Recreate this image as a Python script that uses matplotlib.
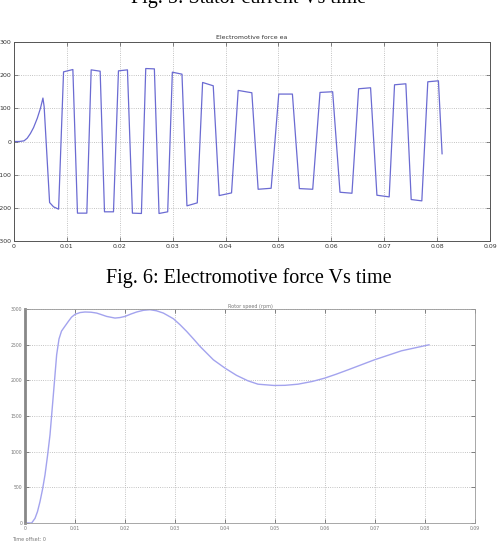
import numpy as np
import matplotlib
matplotlib.use('Agg')
import matplotlib.pyplot as plt

# emf trace (s, V)
emf_t = [0, 0.0010, 0.0019, 0.0025, 0.0031, 0.0037, 0.0044, 0.0050, 0.00547, 0.0057,
         0.00673, 0.00748, 0.00843, 0.00937, 0.01113, 0.0120, 0.01377, 0.01459, 0.01629,
         0.01711, 0.01881, 0.01975, 0.02145, 0.02239, 0.02409, 0.02491, 0.02654,
         0.02742, 0.02906, 0.02994, 0.03176, 0.0327, 0.03465, 0.03566, 0.03767,
         0.0388, 0.04113, 0.04239, 0.04421, 0.04497, 0.04616, 0.04862, 0.05006, 0.05264,
         0.05396, 0.05648, 0.05786, 0.06025, 0.06164, 0.0639, 0.06516, 0.06742,
         0.06862, 0.07094, 0.07195, 0.07409, 0.0751, 0.07711, 0.07824, 0.08025, 0.08094]
emf_v = [0, 0, 2, 10, 24, 42, 70, 100, 131, 105,
         -184, -197, -204, 210, 217, -216, -216, 216, 212,
         -212, -212, 213, 216, -216, -217, 220, 219,
         -217, -212, 209, 203, -194, -185, 178, 168,
         -163, -155, 154, 149, 147, -144, -141, 143, 143,
         -142, -144, 148, 150, -153, -156, 159, 162,
         -162, -167, 171, 174, -175, -179, 180, 183, -37]

# rotor speed (s, rpm)
spd_t = [0, 0.00133, 0.002, 0.0025, 0.003, 0.0035, 0.004, 0.0045, 0.005, 0.00567,
         0.00633, 0.0068, 0.0073, 0.0078, 0.00867, 0.0093, 0.010, 0.011, 0.012,
         0.0132, 0.01433, 0.01533, 0.01633, 0.018, 0.019, 0.020, 0.0212, 0.02233,
         0.0237, 0.025, 0.0263, 0.02767, 0.02967, 0.031, 0.03233, 0.0337, 0.035,
         0.03767, 0.040, 0.0423, 0.0446, 0.0466, 0.0498, 0.052, 0.0546, 0.0575,
         0.0599, 0.0622, 0.0646, 0.0699, 0.0753, 0.0808]
spd_v = [0, 0, 65, 160, 300, 470, 674, 940, 1235, 1797,
         2358, 2580, 2690, 2740, 2826, 2885, 2925, 2950, 2958,
         2955, 2943, 2920, 2896, 2873, 2880, 2896, 2930, 2958,
         2982, 2990, 2975, 2943, 2864, 2780, 2686, 2580, 2476,
         2288, 2171, 2070, 1993, 1946, 1928, 1930, 1946, 1985,
         2030, 2085, 2147, 2288, 2414, 2498]

emf_yticks = [-300, -200, -100, 0, 100, 200, 300]
spd_yticks = [0, 500, 1000, 1500, 2000, 2500, 3000]
xticks = [0, 0.01, 0.02, 0.03, 0.04, 0.05, 0.06, 0.07, 0.08, 0.09]
xlabels = ['0', '0.01', '0.02', '0.03', '0.04', '0.05', '0.06', '0.07', '0.08', '0.09']

W, H = 498, 548
fig = plt.figure(figsize=(W / 100, H / 100), dpi=100)

def px_axes(l, t, r, b):
    return fig.add_axes([l / W, 1 - b / H, (r - l) / W, (b - t) / H])

def scope_style(ax, fs, col):
    ax.set_xlim(0, 0.09)
    ax.set_xticks(xticks)
    ax.set_xticklabels(xlabels)
    ax.grid(True, linestyle=':', color='#b0b0b0', linewidth=0.6)
    ax.tick_params(direction='in', top=True, right=True, length=3, width=0.5,
                   labelsize=fs, labelcolor=col, pad=2, color='#555555')

# captions (the upper one is cut by the page crop)
fig.text(0.5, 1 - 3.5 / H, 'Fig. 5: Stator current Vs time', ha='center', va='baseline',
         fontsize=14.5, family='Liberation Serif')
fig.text(0.5, 1 - 283 / H, 'Fig. 6: Electromotive force Vs time', ha='center', va='baseline',
         fontsize=14.5, family='Liberation Serif')

# top chart: emf
ax1 = px_axes(14, 42, 490, 241)
ax1.plot(emf_t, emf_v, color='#6b6bd2', linewidth=0.9)
ax1.set_ylim(-300, 300)
ax1.set_yticks(emf_yticks)
scope_style(ax1, 4.5, '#333333')
for s in ax1.spines.values():
    s.set_color('#555555')
    s.set_linewidth(0.7)
ax1.set_title('Electromotive force ea', fontsize=4.5, color='#333333', pad=2)

# bottom chart: rotor speed
ax2 = px_axes(25, 309, 475, 523)
ax2.plot(spd_t, spd_v, color='#a3a3ee', linewidth=1.0)
ax2.set_ylim(0, 3000)
ax2.set_yticks(spd_yticks)
scope_style(ax2, 3.3, '#777777')
for s in ax2.spines.values():
    s.set_color('#999999')
    s.set_linewidth(0.6)
ax2.spines['left'].set_linewidth(2)
ax2.spines['left'].set_color('#888888')
ax2.set_title('Rotor speed (rpm)', fontsize=3.5, color='#777777', pad=1)
fig.text(12 / W, 1 - 541 / H, 'Time offset: 0', fontsize=3.5, color='#777777')

fig.savefig('out.png', dpi=100)
